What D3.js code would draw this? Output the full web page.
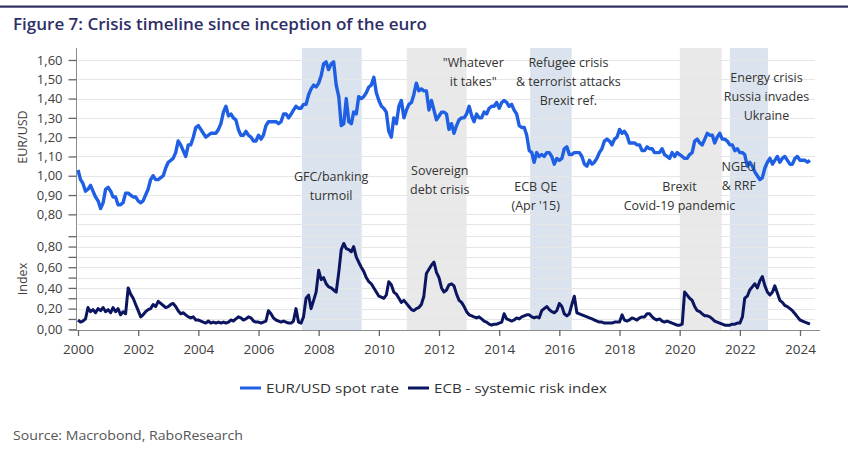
<!DOCTYPE html>
<html><head><meta charset="utf-8">
<script src="https://cdn.jsdelivr.net/npm/d3@7"></script>
<style>
body{margin:0;background:#fff}
svg{display:block}
text{font-family:"Open Sans","Noto Sans",sans-serif}
</style>
</head><body>
<svg id="chart" width="848" height="466"></svg>
<script>
// ---------------- DATA ----------------
const firstMonth = "2000-01";   // monthly observations start here
const eurusd = [
  1.03,0.98,0.96,0.92,0.93,0.95,0.92,0.89,0.87,0.83,0.86,0.93,
  0.94,0.92,0.89,0.89,0.85,0.85,0.86,0.91,0.91,0.90,0.89,0.89,
  0.87,0.86,0.87,0.90,0.93,0.98,1.00,0.98,0.98,0.99,1.00,1.04,
  1.07,1.08,1.09,1.12,1.18,1.16,1.13,1.10,1.16,1.16,1.20,1.25,
  1.26,1.24,1.22,1.20,1.21,1.22,1.22,1.22,1.24,1.27,1.33,1.36,
  1.31,1.32,1.30,1.29,1.24,1.21,1.21,1.23,1.21,1.20,1.18,1.18,
  1.21,1.19,1.21,1.26,1.28,1.28,1.28,1.28,1.27,1.28,1.32,1.32,
  1.30,1.32,1.34,1.36,1.35,1.35,1.37,1.37,1.42,1.45,1.47,1.46,
  1.48,1.52,1.58,1.59,1.55,1.58,1.59,1.47,1.41,1.26,1.27,1.40,
  1.28,1.27,1.33,1.32,1.41,1.40,1.41,1.43,1.46,1.47,1.51,1.43,
  1.39,1.36,1.35,1.33,1.23,1.20,1.30,1.27,1.36,1.39,1.30,1.34,
  1.37,1.38,1.42,1.48,1.44,1.45,1.44,1.44,1.34,1.39,1.34,1.29,
  1.31,1.33,1.33,1.32,1.24,1.27,1.22,1.26,1.29,1.30,1.30,1.32,
  1.36,1.31,1.28,1.32,1.30,1.30,1.33,1.32,1.35,1.36,1.36,1.38,
  1.35,1.38,1.39,1.38,1.36,1.37,1.34,1.32,1.26,1.25,1.25,1.21,
  1.13,1.12,1.07,1.12,1.10,1.11,1.10,1.12,1.12,1.10,1.06,1.09,
  1.08,1.09,1.14,1.15,1.11,1.11,1.12,1.12,1.12,1.10,1.06,1.05,
  1.08,1.06,1.07,1.09,1.12,1.14,1.18,1.19,1.18,1.16,1.19,1.20,
  1.24,1.22,1.23,1.21,1.17,1.17,1.17,1.16,1.16,1.13,1.13,1.15,
  1.14,1.14,1.12,1.12,1.12,1.14,1.11,1.10,1.09,1.12,1.10,1.12,
  1.11,1.10,1.09,1.09,1.11,1.12,1.18,1.19,1.17,1.16,1.19,1.22,
  1.21,1.21,1.17,1.20,1.22,1.19,1.19,1.18,1.16,1.16,1.13,1.14,
  1.12,1.12,1.11,1.05,1.07,1.05,1.02,1.00,0.98,0.99,1.04,1.07,
  1.09,1.06,1.08,1.10,1.07,1.09,1.10,1.08,1.06,1.06,1.09,1.10,
  1.08,1.08,1.08,1.07,1.08
];
const riskIndex = [
  .09,.07,.08,.10,.21,.17,.19,.16,.20,.18,.21,.17,
  .19,.16,.21,.17,.20,.14,.17,.15,.40,.34,.30,.24,
  .18,.12,.14,.17,.19,.20,.24,.22,.27,.25,.23,.21,
  .22,.24,.25,.22,.18,.15,.16,.14,.12,.11,.12,.09,
  .09,.08,.07,.06,.08,.06,.07,.06,.07,.06,.07,.06,
  .07,.09,.08,.10,.12,.11,.09,.10,.12,.11,.08,.07,
  .07,.06,.07,.08,.18,.15,.11,.09,.08,.07,.08,.07,
  .06,.06,.08,.20,.07,.06,.12,.30,.33,.20,.28,.36,
  .57,.48,.50,.44,.41,.40,.38,.36,.55,.77,.83,.78,
  .77,.75,.80,.70,.65,.60,.56,.50,.46,.44,.40,.36,
  .32,.31,.30,.33,.46,.43,.36,.34,.30,.26,.28,.25,
  .22,.19,.18,.20,.21,.24,.32,.54,.58,.62,.65,.55,
  .50,.40,.36,.38,.43,.44,.42,.34,.28,.26,.22,.17,
  .14,.13,.12,.11,.12,.10,.08,.07,.05,.04,.05,.05,
  .06,.07,.15,.10,.09,.08,.09,.11,.10,.12,.13,.14,
  .14,.12,.11,.12,.11,.18,.20,.22,.19,.17,.16,.18,
  .25,.22,.15,.13,.15,.24,.32,.16,.15,.14,.13,.12,
  .11,.10,.09,.08,.07,.07,.06,.06,.06,.06,.07,.07,
  .07,.14,.09,.08,.09,.11,.10,.09,.11,.12,.12,.15,
  .15,.12,.10,.09,.10,.08,.07,.08,.07,.06,.05,.04,
  .04,.05,.36,.33,.30,.28,.22,.18,.17,.15,.13,.13,
  .12,.10,.08,.07,.06,.05,.04,.04,.04,.05,.05,.06,
  .06,.12,.30,.32,.38,.41,.44,.40,.47,.51,.42,.36,
  .33,.36,.42,.35,.28,.26,.23,.22,.20,.18,.15,.12,
  .09,.08,.07,.06,.05
];
const xTickYears = [2000,2002,2004,2006,2008,2010,2012,2014,2016,2018,2020,2022,2024];
const topTicks = [0.8,0.9,1.0,1.1,1.2,1.3,1.4,1.5,1.6];
const bottomTicks = [0,0.1,0.2,0.3,0.4,0.5,0.6,0.7,0.8,0.9];
const bottomLabelled = [0,0.2,0.4,0.6,0.8];
const periodStarts = ["2007-06-12","2010-12-05","2015-01-12","2020-01-03","2021-09-01"];
const periodEnds   = ["2009-06-07","2012-12-01","2016-05-30","2021-05-26","2022-12-08"];
const periodKinds  = ["blue","grey","blue","grey","blue"];
const annotationLines = [
  ["GFC/banking","turmoil"],
  ["Sovereign","debt crisis"],
  ["\"Whatever","it takes\""],
  ["Refugee crisis","& terrorist attacks","Brexit ref."],
  ["ECB QE","(Apr '15)"],
  ["Brexit","Covid-19 pandemic"],
  ["NGEU","& RRF"],
  ["Energy crisis","Russia invades","Ukraine"]
];
const annotationDates  = ["2008-06-01","2012-01-10","2013-02-20","2016-04-20","2015-03-20","2019-12-30","2021-12-20","2022-11-20"];
const annotationLevels = [0.973,1.005,1.564,1.564,0.921,0.921,1.025,1.486];
const seriesNames = ["EUR/USD spot rate","ECB - systemic risk index"];

// ---------------- STYLE / LAYOUT ----------------
const W = 848, H = 466;
const C = {
  eur: "#1f5fe3", risk: "#0c1660", blueBand: "#dbe4ee", greyBand: "#e9e9e9",
  grid: "#e6e6e6", axis: "#8c8c8c", text: "#404040", title: "#2f2f68", rule: "#2e2e60"
};
const svg = d3.select("#chart");
const parse = d3.utcParse("%Y-%m-%d");
const t0 = d3.utcParse("%Y-%m")(firstMonth);
const months = d3.utcMonth.range(t0, d3.utcMonth.offset(t0, eurusd.length));

const xBase = d3.scaleUtc().domain([new Date(Date.UTC(2000,0,1)), new Date(Date.UTC(2024,0,1))]).range([78, 800]);
const x = xBase.copy().domain([xBase.invert(77), xBase.invert(820)]).range([77, 820]);
const yTop = d3.scaleLinear().domain([0.75, 1.66]).range([224, 48.4]);
const yBot = d3.scaleLinear().domain([0, 0.9]).range([329.3, 236.2]);
const comma = v => d3.format(".2f")(v).replace(".", ",");

// top rule & title
svg.append("rect").attr("x",0).attr("y",5.5).attr("width",W).attr("height",2.2).attr("fill",C.rule);
const title = svg.append("text").attr("x",13).attr("y",30).attr("fill",C.title)
  .attr("font-size",16).attr("font-weight",600).text("Figure 7: Crisis timeline since inception of the euro");
function fit(sel, w){ const n = sel.node().getComputedTextLength(); if (Math.abs(n-w)/w > 0.02) sel.attr("textLength", w).attr("lengthAdjust","spacingAndGlyphs"); }
fit(title, 414);

// bands
svg.append("g").selectAll("rect").data(periodStarts).join("rect")
  .attr("x", (d,i) => x(parse(d)))
  .attr("width", (d,i) => x(parse(periodEnds[i])) - x(parse(d)))
  .attr("y", 48).attr("height", 330 - 48)
  .attr("fill", (d,i) => periodKinds[i] === "blue" ? C.blueBand : C.greyBand);

// gridlines
const grid = svg.append("g").attr("stroke", C.grid).attr("stroke-width", 1);
grid.selectAll(".gt").data(topTicks.concat([0.75])).join("line")
  .attr("x1", 78).attr("x2", 815).attr("y1", d => Math.round(yTop(d))+0.5).attr("y2", d => Math.round(yTop(d))+0.5);
grid.selectAll(".gb").data(bottomTicks.slice(1)).join("line")
  .attr("x1", 78).attr("x2", 815).attr("y1", d => Math.round(yBot(d))+0.5).attr("y2", d => Math.round(yBot(d))+0.5);

// lines
const lineTop = d3.line().x((d,i) => x(months[i])).y(d => yTop(d));
const lineBot = d3.line().x((d,i) => x(months[i])).y(d => yBot(d));
svg.append("path").datum(riskIndex).attr("d", lineBot).attr("fill","none")
  .attr("stroke", C.risk).attr("stroke-width", 3).attr("stroke-linejoin","round");
svg.append("path").datum(eurusd).attr("d", lineTop).attr("fill","none")
  .attr("stroke", C.eur).attr("stroke-width", 3.4).attr("stroke-linejoin","round");

// y axes
const axL = svg.append("g").attr("color", C.axis);
axL.append("line").attr("x1",76.5).attr("x2",76.5).attr("y1",48).attr("y2",330).attr("stroke",C.axis);
const gTop = svg.append("g").attr("transform","translate(76.5,0)")
  .call(d3.axisLeft(yTop).tickValues(topTicks).tickSize(8).tickPadding(6).tickFormat(comma));
const gBot = svg.append("g").attr("transform","translate(76.5,0)")
  .call(d3.axisLeft(yBot).tickValues(bottomTicks).tickSize(8).tickPadding(6)
    .tickFormat(d => bottomLabelled.some(v => Math.abs(v-d) < 1e-9) ? comma(d) : ""));
[gTop, gBot].forEach(g => {
  g.select(".domain").remove();
  g.selectAll(".tick line").attr("stroke", "#666").attr("stroke-width", 1.3);
  g.selectAll("text").attr("fill", C.text).attr("font-size", 13).attr("font-family", "\"Open Sans\",sans-serif");
});

// x axis
const gx = svg.append("g").attr("transform","translate(0,330)")
  .call(d3.axisBottom(x).tickValues(xTickYears.map(y => new Date(Date.UTC(y,0,1))))
    .tickSize(6).tickPadding(8).tickFormat(d3.utcFormat("%Y")));
gx.select(".domain").attr("stroke", C.axis).attr("d", "M70,0.5H820");
gx.selectAll(".tick line").attr("stroke", "#666").attr("stroke-width", 1.3);
gx.selectAll("text").attr("fill", C.text).attr("font-size", 13.5).attr("font-family", "\"Open Sans\",sans-serif");

// axis titles
svg.append("text").attr("transform","translate(27,137) rotate(-90)").attr("text-anchor","middle")
  .attr("fill",C.text).attr("font-size",12.5).text("EUR/USD");
svg.append("text").attr("transform","translate(27,279) rotate(-90)").attr("text-anchor","middle")
  .attr("fill",C.text).attr("font-size",12.5).text("Index");

// annotations
const ann = svg.append("g").attr("fill", "#333").attr("font-size", 12.5).attr("text-anchor","middle");
annotationLines.forEach((lines, i) => {
  const cx = x(parse(annotationDates[i]));
  const y0 = yTop(annotationLevels[i]);
  const t = ann.append("text");
  lines.forEach((s, k) => t.append("tspan").attr("x", cx).attr("y", y0 + k*19).text(s));
});

// legend
const lg = svg.append("g");
const legendX = [240, 408], legendTextW = [133, 173];
seriesNames.forEach((name, i) => {
  lg.append("line").attr("x1", legendX[i]).attr("x2", legendX[i] + 21).attr("y1", 388).attr("y2", 388)
    .attr("stroke", i === 0 ? C.eur : C.risk).attr("stroke-width", 3);
  const t = lg.append("text").attr("x", legendX[i] + 26).attr("y", 393).attr("fill", "#333")
    .attr("font-size", 13.5).text(name);
  fit(t, legendTextW[i]);
});

// source
const src = svg.append("text").attr("x", 13).attr("y", 440).attr("fill", "#555").attr("font-size", 13)
  .text("Source: Macrobond, RaboResearch");
fit(src, 230);
</script>
</body></html>
